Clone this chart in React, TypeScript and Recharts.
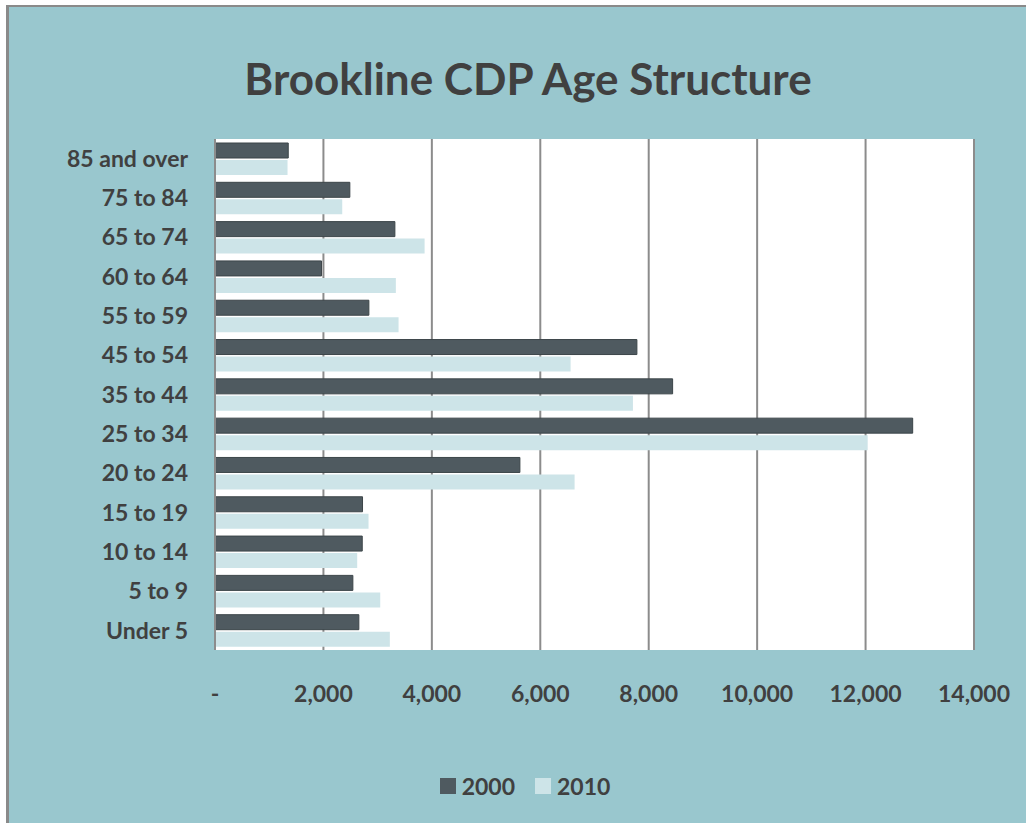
import React from 'react';
import { BarChart, Bar, XAxis, YAxis, CartesianGrid } from 'recharts';

const AGE_GROUPS = [
  '85 and over', '75 to 84', '65 to 74', '60 to 64', '55 to 59', '45 to 54', '35 to 44',
  '25 to 34', '20 to 24', '15 to 19', '10 to 14', '5 to 9', 'Under 5',
];
const POP_2000 = [1351, 2487, 3318, 1965, 2838, 7782, 8441, 12869, 5624, 2721, 2716, 2543, 2653];
const POP_2010 = [1338, 2347, 3866, 3336, 3386, 6559, 7709, 12039, 6633, 2832, 2623, 3048, 3225];
const X_TICKS = [0, 2000, 4000, 6000, 8000, 10000, 12000, 14000];

const DARK = '#4f5a60';
const LIGHT = '#cde4e8';
const TEAL = '#99c7ce';
const TEXT = '#404040';
const FONT = 'Lato, "Open Sans", sans-serif';

const data = AGE_GROUPS.map((age, i) => ({ age, y2000: POP_2000[i], y2010: POP_2010[i] }));

const fmt = (v: number) => (v === 0 ? '-' : v.toLocaleString('en-US'));

export default function App() {
  return (
    <div style={{ position: 'absolute', left: 0, top: 0, width: 1026, height: 823, background: '#fff', fontFamily: FONT }}>
      <div
        style={{
          position: 'absolute', left: 6, top: 5, right: 0, bottom: 0,
          background: TEAL, borderLeft: '3px solid #8a8a8a', borderTop: '2px solid #8a8a8a',
        }}
      />
      <div
        style={{
          position: 'absolute', left: 0, width: 1056, top: 51, textAlign: 'center',
          fontSize: 44, fontWeight: 700, color: TEXT, lineHeight: '54px',
        }}
      >
        Brookline CDP Age Structure
      </div>
      <div style={{ position: 'absolute', left: 0, top: 0 }}>
        <BarChart
          width={1026}
          height={823}
          data={data}
          layout="vertical"
          barSize={15}
          barGap={2}
          margin={{ top: 139, right: 52, bottom: 113, left: 0 }}
        >
          <CartesianGrid horizontal={false} vertical={true} stroke="#8c8c8c" strokeWidth={2} fill="#ffffff" />
          <XAxis
            type="number"
            domain={[0, 14000]}
            ticks={X_TICKS}
            tickFormatter={fmt}
            axisLine={false}
            tickLine={false}
            tickMargin={30}
            height={60}
            tick={{ fill: TEXT, fontSize: 23, fontWeight: 700, fontFamily: FONT }}
          />
          <YAxis
            type="category"
            dataKey="age"
            width={215}
            axisLine={{ stroke: '#8c8c8c', strokeWidth: 2 }}
            tickLine={false}
            tickMargin={21}
            interval={0}
            tick={{ fill: TEXT, fontSize: 23, fontWeight: 700, fontFamily: FONT }}
          />
          <Bar dataKey="y2000" fill={DARK} stroke="#3c4549" strokeWidth={1} isAnimationActive={false} />
          <Bar dataKey="y2010" fill={LIGHT} isAnimationActive={false} />
        </BarChart>
      </div>
      <div
        style={{
          position: 'absolute', top: 772, left: 0, width: 1050, display: 'flex', justifyContent: 'center',
          alignItems: 'center', fontSize: 23, fontWeight: 700, color: TEXT,
        }}
      >
        <span style={{ width: 16, height: 16, background: DARK, display: 'inline-block', marginRight: 6 }} />
        <span style={{ marginRight: 20 }}>2000</span>
        <span style={{ width: 16, height: 16, background: LIGHT, display: 'inline-block', marginRight: 6 }} />
        <span>2010</span>
      </div>
    </div>
  );
}
